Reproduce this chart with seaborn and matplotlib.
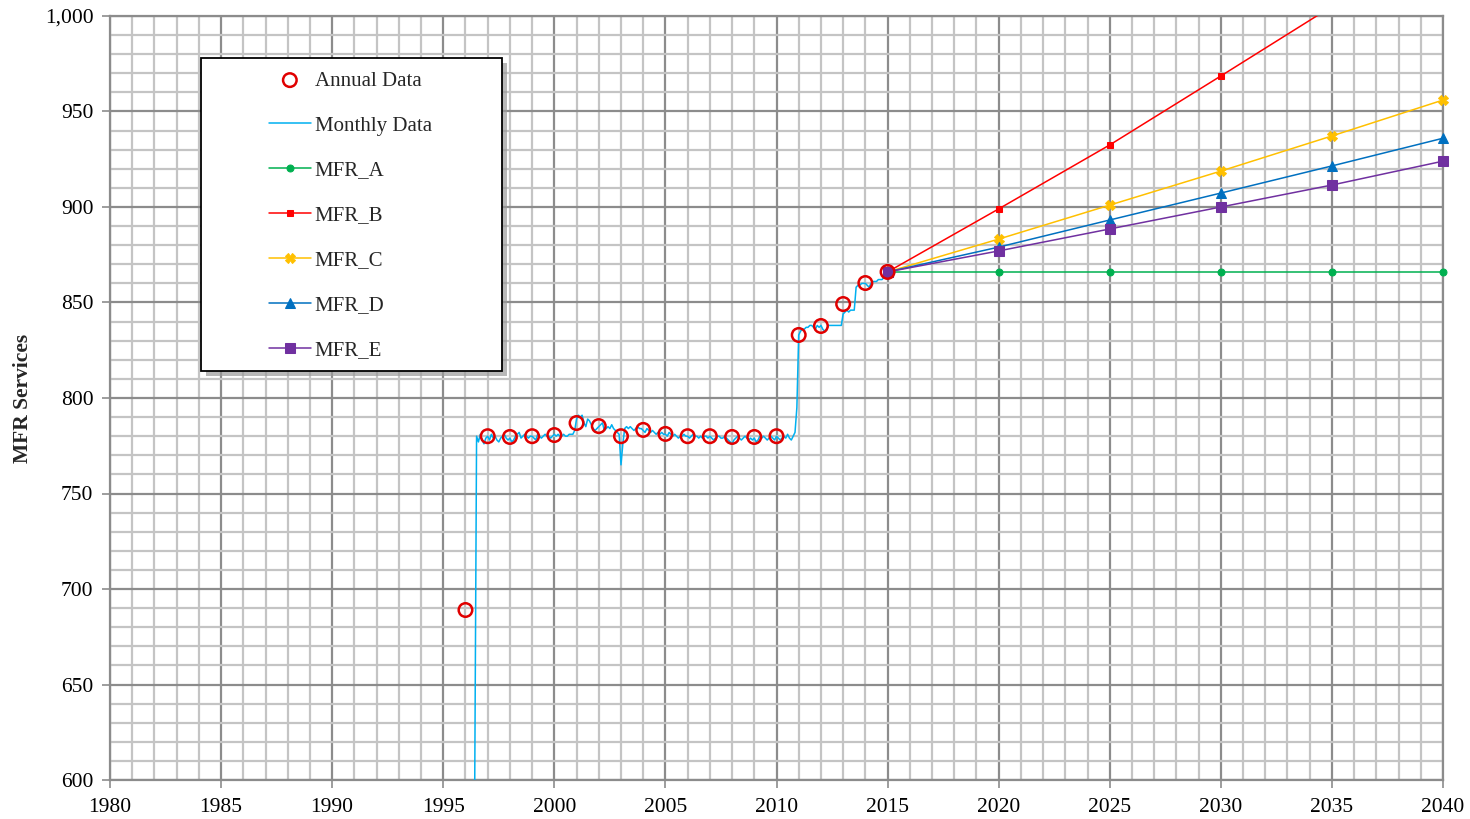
import numpy as np
import pandas as pd
import matplotlib.pyplot as plt
import matplotlib.ticker as mticker
from matplotlib.patches import Rectangle
import seaborn as sns

# annual observations
annual_years = [1996, 1997, 1998, 1999, 2000, 2001, 2002, 2003, 2004, 2005,
                2006, 2007, 2008, 2009, 2010, 2011, 2012, 2013, 2014, 2015]
annual_vals = [689, 780, 779.6, 780, 780.6, 786.9, 785.3, 780, 783.3, 781.2,
               780, 780, 779.6, 779.6, 780, 833, 837.7, 849.2, 860.2, 866]

# monthly observations, one list of 12 per year (1996-2014), plus Jan 2015
monthly_by_year = {
    1996: [598, 598, 598, 598, 598, 598, 780, 777, 781, 778, 776, 779],
    1997: [780, 778, 781, 779, 780, 778, 777, 779, 780, 781, 779, 778],
    1998: [779, 777, 778, 780, 781, 782, 779, 780, 781, 780, 779, 780],
    1999: [780, 779, 778, 781, 780, 779, 780, 781, 780, 780, 779, 780],
    2000: [781, 780, 781, 780, 780, 781, 780, 780, 781, 781, 781, 783],
    2001: [789, 791, 790, 791, 787, 785, 789, 788, 786, 784, 783, 784],
    2002: [785, 786, 787, 783, 784, 785, 784, 786, 784, 783, 782, 781],
    2003: [765, 776, 784, 785, 784, 785, 784, 783, 784, 785, 784, 784],
    2004: [783, 782, 784, 783, 782, 783, 782, 781, 782, 781, 782, 781],
    2005: [781, 780, 782, 781, 780, 781, 780, 779, 780, 780, 781, 780],
    2006: [780, 779, 780, 781, 780, 780, 779, 780, 779, 780, 780, 779],
    2007: [780, 779, 778, 779, 780, 780, 779, 779, 780, 779, 778, 777],
    2008: [776, 778, 779, 780, 779, 778, 779, 780, 779, 778, 779, 778],
    2009: [779, 777, 778, 780, 779, 780, 779, 778, 779, 780, 779, 778],
    2010: [780, 779, 778, 779, 780, 779, 781, 779, 778, 780, 782, 795],
    2011: [833, 835, 836, 836, 837, 837, 838, 838, 837, 836, 838, 837],
    2012: [838, 836, 835, 836, 838, 838, 838, 838, 838, 838, 838, 838],
    2013: [844, 845, 846, 845, 846, 846, 846, 858, 859, 859, 860, 860],
    2014: [860, 859, 858, 860, 861, 861, 861, 862, 862, 862, 863, 864],
    2015: [866],
}

# projections
proj_years = [2015, 2020, 2025, 2030, 2035, 2040]
mfr_a = [866, 866, 866, 866, 866, 866]
mfr_b = [866, 899, 932.5, 968.6, 1005, 1043]
mfr_c = [866, 883.2, 901, 918.8, 937.2, 956]
mfr_d = [866, 879, 893.2, 907.3, 921.5, 936]
mfr_e = [866, 877, 888.5, 900, 911.5, 924]

monthly_x = []
monthly_y = []
for yr, vals in monthly_by_year.items():
    for m, v in enumerate(vals):
        monthly_x.append(yr + m / 12)
        monthly_y.append(v)
monthly = pd.DataFrame({"t": monthly_x, "v": monthly_y})

sns.set_style("white")
plt.rcParams["font.family"] = ["Liberation Serif", "DejaVu Serif"]

fig = plt.figure(figsize=(14.7, 8.19), dpi=100)
ax = fig.add_axes([110 / 1470, 1 - 780 / 819, 1333 / 1470, 764 / 819])

series = [
    ("MFR_A", mfr_a, "#00B050", "o", 5),
    ("MFR_B", mfr_b, "#FF0000", "s", 4.5),
    ("MFR_C", mfr_c, "#FFC000", "X", 7),
    ("MFR_D", mfr_d, "#0070C0", "^", 7),
    ("MFR_E", mfr_e, "#7030A0", "s", 7),
]

sns.lineplot(x=monthly["t"], y=monthly["v"], color="#00B0F0", lw=1.1,
             ax=ax, label="Monthly Data", zorder=4)
for name, vals, col, mk, ms in series:
    sns.lineplot(x=proj_years, y=vals, color=col, lw=1.1, marker=mk,
                 markersize=ms, markeredgecolor=col, ax=ax, label=name,
                 zorder=5, clip_on=False)
# MFR_B runs off the top: clip its line but keep the other markers unclipped
ax.lines[2].set_clip_on(True)
sns.scatterplot(x=annual_years, y=annual_vals, marker="o", s=95,
                facecolor="none", edgecolor="#E00000", linewidth=1.8,
                ax=ax, label="Annual Data", zorder=6)

ax.set_xlim(1980, 2040)
ax.set_ylim(600, 1000)
ax.xaxis.set_major_locator(mticker.MultipleLocator(5))
ax.xaxis.set_minor_locator(mticker.MultipleLocator(1))
ax.yaxis.set_major_locator(mticker.MultipleLocator(50))
ax.yaxis.set_minor_locator(mticker.MultipleLocator(10))
ax.yaxis.set_major_formatter(mticker.StrMethodFormatter("{x:,.0f}"))

ax.grid(which="minor", color="#C4C4C4", lw=1.6, zorder=0)
ax.grid(which="major", color="#8C8C8C", lw=1.6, zorder=0)
ax.set_axisbelow(True)
for sp in ax.spines.values():
    sp.set_color("#8C8C8C")
    sp.set_linewidth(1.6)

ax.tick_params(which="major", direction="out", length=6, width=1.2,
               color="#8C8C8C", labelsize=15.5, labelcolor="black",
               left=True, bottom=True, pad=6)
ax.tick_params(axis="x", which="major", pad=7)
ax.tick_params(which="minor", length=0)
ax.set_xlabel("")
ax.set_ylabel("MFR Services", fontsize=15.5, fontweight="bold")
ax.yaxis.set_label_coords((33 - 110) / 1333, 0.5)

# legend box with shadow
bx0, bx1 = (201 - 110) / 1333, (502 - 110) / 1333
by0, by1 = (780 - 371) / 764, (780 - 58) / 764
ax.add_patch(Rectangle((bx0 + 0.004, by0 - 0.007), bx1 - bx0, by1 - by0,
                       transform=ax.transAxes, facecolor="#9A9A9A",
                       edgecolor="none", zorder=8, alpha=0.7))
ax.add_patch(Rectangle((bx0, by0), bx1 - bx0, by1 - by0,
                       transform=ax.transAxes, facecolor="white",
                       edgecolor="black", lw=1.3, zorder=9))

handles, labels = ax.get_legend_handles_labels()
order = ["Annual Data", "Monthly Data", "MFR_A", "MFR_B", "MFR_C", "MFR_D", "MFR_E"]
hmap = dict(zip(labels, handles))
leg = ax.legend([hmap[k] for k in order], order, loc="upper left",
                bbox_to_anchor=((269 - 110) / 1333, (780 - 71) / 764),
                frameon=False, fontsize=15, labelspacing=1.22,
                handlelength=2.0, handletextpad=0.2, borderpad=0,
                borderaxespad=0)
leg.set_zorder(10)

fig.savefig("out.png", dpi=100)
